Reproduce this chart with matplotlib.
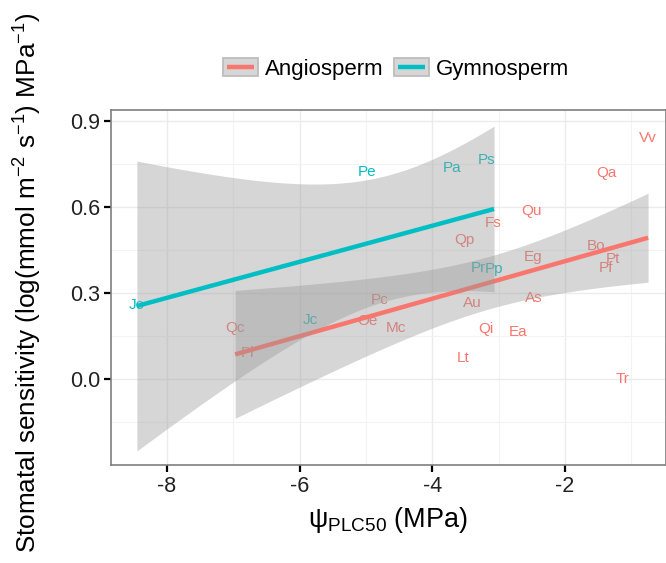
import numpy as np
import matplotlib
matplotlib.use("Agg")
import matplotlib.pyplot as plt
from matplotlib.lines import Line2D
from matplotlib.patches import Rectangle
from matplotlib.legend_handler import HandlerBase

plt.rcParams['font.family'] = ['Liberation Sans', 'DejaVu Sans']
plt.rcParams['mathtext.fontset'] = 'custom'
plt.rcParams['mathtext.rm'] = 'Liberation Sans'
plt.rcParams['mathtext.it'] = 'Liberation Sans:italic'
plt.rcParams['mathtext.bf'] = 'Liberation Sans:bold'
plt.rcParams['axes.unicode_minus'] = False

# ---- data ----
gym_labels = ["Jo", "Pe", "Pa", "Ps", "Pr", "Pp", "Jc"]
gym_x = [-8.45, -4.98, -3.70, -3.19, -3.30, -3.07, -5.83]
gym_y = [0.259, 0.722, 0.736, 0.764, 0.388, 0.384, 0.207]

ang_labels = ["Vv", "Qa", "Qu", "Fs", "Qp", "Bo", "Pt", "Pf", "Eg", "As",
              "Au", "Pc", "Oe", "Mc", "Qi", "Ea", "Lt", "Tr", "Qc", "Pl"]
ang_x = [-0.75, -1.37, -2.50, -3.09, -3.51, -1.54, -1.28, -1.38, -2.48, -2.47,
         -3.39, -4.79, -4.98, -4.55, -3.19, -2.71, -3.54, -1.13, -6.97, -6.79]
ang_y = [0.841, 0.719, 0.586, 0.544, 0.485, 0.464, 0.419, 0.388, 0.426, 0.283,
         0.266, 0.276, 0.203, 0.179, 0.175, 0.165, 0.074, 0.001, 0.179, 0.092]

x_ticks = [-8, -6, -4, -2]
y_ticks = [0.0, 0.3, 0.6, 0.9]
y_ticklabels = ["0.0", "0.3", "0.6", "0.9"]

ANG = "#F8766D"
GYM = "#00BFC4"
T975 = {5: 2.5706, 18: 2.1009}


def lm_band(x, y):
    x = np.asarray(x, float)
    y = np.asarray(y, float)
    n = len(x)
    b, a = np.polyfit(x, y, 1)
    xs = np.linspace(x.min(), x.max(), 80)
    fit = a + b * xs
    resid = y - (a + b * x)
    s = np.sqrt(np.sum(resid ** 2) / (n - 2))
    sxx = np.sum((x - x.mean()) ** 2)
    se = s * np.sqrt(1.0 / n + (xs - x.mean()) ** 2 / sxx)
    t = T975[n - 2]
    return xs, fit, fit - t * se, fit + t * se


class KeyHandler(HandlerBase):
    def create_artists(self, legend, orig_handle, xdescent, ydescent,
                       width, height, fontsize, trans):
        rect = Rectangle((-xdescent, -ydescent), width, height,
                         facecolor='#D6D6D6', edgecolor='#BDBDBD', lw=1.3,
                         transform=trans)
        ym = -ydescent + height / 2
        line = Line2D([-xdescent + 0.12 * width, -xdescent + 0.88 * width],
                      [ym, ym], color=orig_handle.get_color(), lw=3.2,
                      transform=trans, solid_capstyle='butt')
        return [rect, line]


fig = plt.figure(figsize=(6.66, 5.63), dpi=100)
ax = fig.add_axes([111 / 666, 1 - 465 / 563, 1 - 111 / 666, (465 - 110) / 563])

ax.set_xlim(-8.84, -0.48)
ax.set_ylim(-0.2986, 0.938)

# grid (theme_bw)
ax.set_xticks(x_ticks)
ax.set_yticks(y_ticks)
ax.set_xticks([-7, -5, -3, -1], minor=True)
ax.set_yticks([-0.15, 0.15, 0.45, 0.75], minor=True)
ax.grid(True, which='major', color='#EBEBEB', lw=1.0)
ax.grid(True, which='minor', color='#F3F3F3', lw=0.8)
ax.set_axisbelow(True)
ax.tick_params(which='minor', length=0)
ax.tick_params(which='major', length=5, width=1.6, color='black',
               labelsize=15.5, labelcolor='#222222', pad=3)
ax.set_yticklabels(y_ticklabels)
for sp in ax.spines.values():
    sp.set_color('#7F7F7F')
    sp.set_linewidth(1.2)

# labels
for lab, x, y in zip(ang_labels, ang_x, ang_y):
    ax.text(x, y, lab, color=ANG, fontsize=11, ha='center', va='center', zorder=2)
for lab, x, y in zip(gym_labels, gym_x, gym_y):
    ax.text(x, y, lab, color=GYM, fontsize=11, ha='center', va='center', zorder=2)

# smooths
xs, fit, lo, hi = lm_band(ang_x, ang_y)
ax.fill_between(xs, lo, hi, color='#999999', alpha=0.4, lw=0, zorder=3)
ax.plot(xs, fit, color=ANG, lw=3.2, zorder=4, solid_capstyle='butt')
xs, fit, lo, hi = lm_band(gym_x, gym_y)
ax.fill_between(xs, lo, hi, color='#999999', alpha=0.4, lw=0, zorder=5)
ax.plot(xs, fit, color=GYM, lw=3.2, zorder=6, solid_capstyle='butt')

ax.set_xlabel(r'$\mathrm{\psi_{PLC50}}$ (MPa)', fontsize=19.5, labelpad=6)
ax.set_ylabel(r'Stomatal sensitivity (log(mmol m$^{-2}$ s$^{-1}$) MPa$^{-1}$)',
              fontsize=18.8)
ax.yaxis.set_label_coords((44 - 111) / 555, (465 - 283) / 355)

# legend
h1 = Line2D([], [], color=ANG)
h2 = Line2D([], [], color=GYM)
leg = fig.legend([h1, h2], ["Angiosperm", "Gymnosperm"],
                 handler_map={Line2D: KeyHandler()},
                 loc='center', bbox_to_anchor=(396 / 666, 1 - 69 / 563),
                 ncol=2, frameon=False, fontsize=16,
                 handlelength=1.6, handleheight=0.9, handletextpad=0.3,
                 columnspacing=0.45)

fig.savefig("out.png", dpi=100)
